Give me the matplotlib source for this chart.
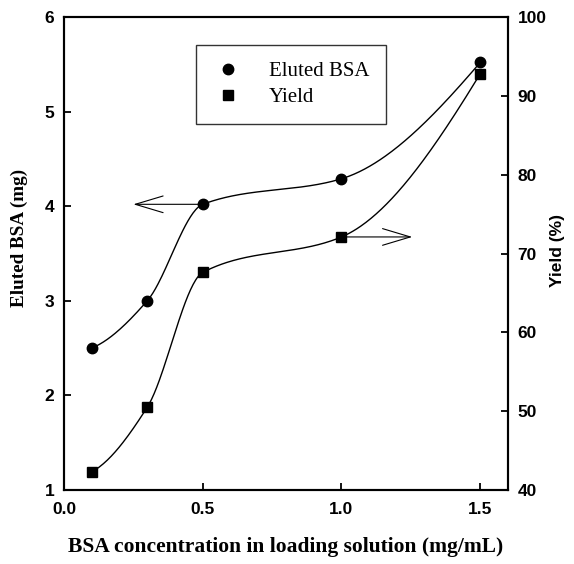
import numpy as np
import matplotlib
matplotlib.use("Agg")
import matplotlib.pyplot as plt
from matplotlib.lines import Line2D

# data
conc = [0.1, 0.3, 0.5, 1.0, 1.5]
eluted_bsa = [2.5, 3.0, 4.02, 4.29, 5.52]
yield_pct = [42.3, 50.5, 67.6, 72.1, 92.8]

x_ticks = [0.0, 0.5, 1.0, 1.5]
left_ticks = [1, 2, 3, 4, 5, 6]
right_ticks = [40, 50, 60, 70, 80, 90, 100]


def pchip(x, y, xs):
    # monotone cubic hermite (Fritsch-Carlson), just for the smooth connecting line
    x = np.asarray(x, float)
    y = np.asarray(y, float)
    h = np.diff(x)
    d = np.diff(y) / h
    m = np.zeros_like(y)
    for k in range(1, len(x) - 1):
        if d[k - 1] * d[k] > 0:
            w1 = 2 * h[k] + h[k - 1]
            w2 = h[k] + 2 * h[k - 1]
            m[k] = (w1 + w2) / (w1 / d[k - 1] + w2 / d[k])
    m[0] = ((2 * h[0] + h[1]) * d[0] - h[0] * d[1]) / (h[0] + h[1])
    if np.sign(m[0]) != np.sign(d[0]):
        m[0] = 0
    m[-1] = ((2 * h[-1] + h[-2]) * d[-1] - h[-1] * d[-2]) / (h[-1] + h[-2])
    if np.sign(m[-1]) != np.sign(d[-1]):
        m[-1] = 0
    idx = np.clip(np.searchsorted(x, xs) - 1, 0, len(x) - 2)
    t = (xs - x[idx]) / h[idx]
    h00 = 2 * t**3 - 3 * t**2 + 1
    h10 = t**3 - 2 * t**2 + t
    h01 = -2 * t**3 + 3 * t**2
    h11 = t**3 - t**2
    return h00 * y[idx] + h10 * h[idx] * m[idx] + h01 * y[idx + 1] + h11 * h[idx] * m[idx + 1]


fig = plt.figure(figsize=(5.74, 5.64), dpi=100)
ax = fig.add_axes([64 / 574, 1 - 490 / 564, 444 / 574, 473 / 564])
ax2 = ax.twinx()

xs = np.linspace(conc[0], conc[-1], 300)
ax.plot(xs, pchip(conc, eluted_bsa, xs), color="black", lw=1.0)
ax.plot(conc, eluted_bsa, "o", color="black", ms=7.5)
ax2.plot(xs, pchip(conc, yield_pct, xs), color="black", lw=1.0)
ax2.plot(conc, yield_pct, "s", color="black", ms=6.5)

# arrows pointing to the axis each curve belongs to
ax.annotate("", xy=(0.25, eluted_bsa[2]), xytext=(conc[2], eluted_bsa[2]),
            arrowprops=dict(arrowstyle="->,head_length=1.0,head_width=0.3",
                            mutation_scale=20, lw=0.8, color="black",
                            shrinkA=0, shrinkB=0))
ax2.annotate("", xy=(1.255, yield_pct[3]), xytext=(conc[3], yield_pct[3]),
             arrowprops=dict(arrowstyle="->,head_length=1.0,head_width=0.3",
                             mutation_scale=20, lw=0.8, color="black",
                             shrinkA=0, shrinkB=0))

ax.set_xlim(0, 1.6)
ax.set_ylim(1, 6)
ax2.set_ylim(40, 100)
ax.set_xticks(x_ticks)
ax.set_xticklabels([f"{v:.1f}" for v in x_ticks])
ax.set_yticks(left_ticks)
ax2.set_yticks(right_ticks)

for lab in ax.get_xticklabels() + ax.get_yticklabels() + ax2.get_yticklabels():
    lab.set_fontfamily("Liberation Sans")
    lab.set_fontweight("bold")
    lab.set_fontsize(12.5)

ax.tick_params(axis="x", direction="in", length=5, width=1.3, pad=9, top=False)
ax.tick_params(axis="y", direction="in", length=5, width=1.3, pad=7, right=False)
ax2.tick_params(axis="y", direction="in", length=5, width=1.3, pad=7)
for a in (ax, ax2):
    for s in a.spines.values():
        s.set_linewidth(1.5)

ax.set_xlabel("BSA concentration in loading solution (mg/mL)",
              family="Liberation Serif", weight="bold", size=15.5, labelpad=14)
ax.set_ylabel("Eluted BSA (mg)", family="Liberation Serif", weight="bold", size=13.8)
ax.yaxis.set_label_coords(-0.08, 0.533)
ax2.set_ylabel("Yield (%)", family="Liberation Sans", weight="bold", size=12.5)
ax2.yaxis.set_label_coords(1.095, 0.507)

handles = [
    Line2D([], [], ls="none", marker="o", color="black", ms=7.5),
    Line2D([], [], ls="none", marker="s", color="black", ms=6.5),
]
leg = ax2.legend(handles, ["Eluted BSA", "Yield"], loc="upper left",
                 bbox_to_anchor=(196 / 574, 1 - 45 / 564),
                 bbox_transform=fig.transFigure, borderaxespad=0,
                 prop=dict(family="Liberation Serif", size=15),
                 frameon=True, fancybox=False, edgecolor="black",
                 borderpad=0.8, handlelength=1.5, handletextpad=1.2,
                 labelspacing=0.3, numpoints=1)
leg.get_frame().set_linewidth(1.0)

fig.savefig("out.png", dpi=100)
